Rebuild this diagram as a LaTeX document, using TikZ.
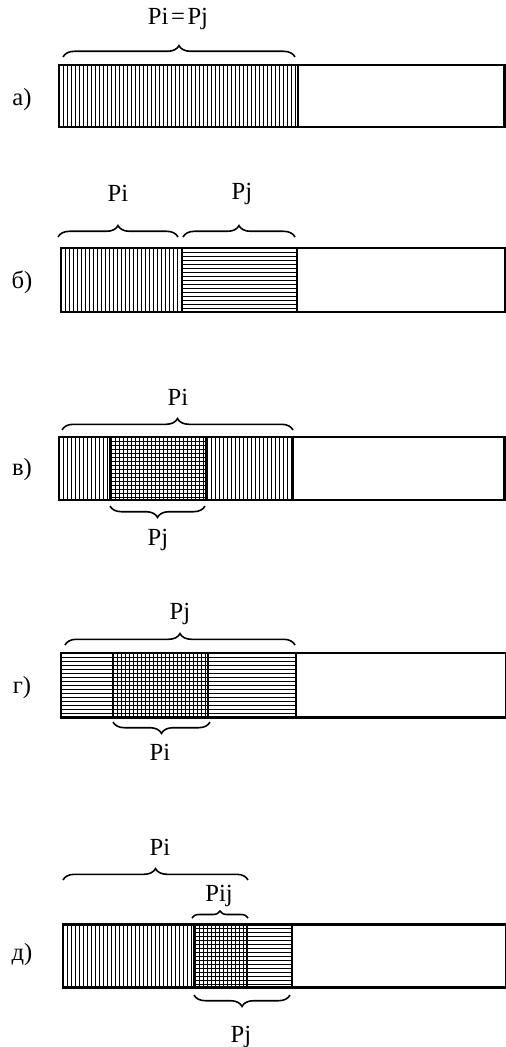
\documentclass[tikz,border=0pt]{standalone}
\usepackage{fontspec}
\setmainfont{Liberation Serif}
\usetikzlibrary{decorations.pathreplacing}

\tikzset{
  bar/.style={line width=1.7pt},
  hatch/.style={line width=0.45pt},
  topbrace/.style={decorate,decoration={brace,amplitude=6.5pt},line width=0.9pt},
  botbrace/.style={decorate,decoration={brace,mirror,amplitude=6.5pt},line width=0.9pt},
  lbl/.style={font=\fontsize{14}{16}\selectfont,inner sep=0pt}
}

\begin{document}
\begin{tikzpicture}[x=0.02cm,y=-0.02cm]
    \useasboundingbox (0,0) rectangle (506,1047);
    %% a)
    \coordinate (a0) at (59,65);
    \coordinate (a1) at (298,127);
    \coordinate (a2) at (504,127);
    \foreach \x in {63,67,...,295} \draw[hatch] (\x,65) -- (\x,127);
    \draw[bar] (a0) rectangle (a2);
    \draw[bar] (a1) -- (a1 |- a0);
    \coordinate (aL) at (63,57);
    \coordinate (aR) at (295,57);
    \draw[topbrace] (aL) -- (aR);
    \node[lbl] (pij) at (178,19) {Pi\hspace{1.5pt}=\hspace{1.5pt}Pj};
    \node[lbl] (na) at (22,100) {а)};
    %% b)
    \coordinate (b0) at (61,248);
    \coordinate (b1) at (182,312);
    \coordinate (b2) at (297,312);
    \coordinate (b3) at (505,312);
    \foreach \x in {65,69,...,180} \draw[hatch] (\x,248) -- (\x,312);
    \foreach \y in {252,256,...,309} \draw[hatch] (182,\y) -- (297,\y);
    \draw[bar] (b0) rectangle (b3);
    \draw[bar] (b1) -- (b1 |- b0);
    \draw[bar] (b2) -- (b2 |- b0);
    \coordinate (bL) at (58,237);
    \coordinate (bM) at (178,237);
    \coordinate (bN) at (183,237);
    \coordinate (bR) at (295,237);
    \draw[topbrace] (bL) -- (bM);
    \draw[topbrace] (bN) -- (bR);
    \node[lbl] (bpi) at (118,193) {Pi};
    \node[lbl] (bpj) at (242,194) {Pj};
    \node[lbl] (nb) at (22,282) {б)};
    %% c)
    \coordinate (c0) at (59,437);
    \coordinate (c1) at (110,500);
    \coordinate (c2) at (206,500);
    \coordinate (c3) at (293,500);
    \coordinate (c4) at (504,500);
    \foreach \x in {63,67,...,291} \draw[hatch] (\x,437) -- (\x,500);
    \foreach \y in {441,445,...,497} \draw[hatch] (110,\y) -- (206,\y);
    \draw[bar] (c0) rectangle (c4);
    \foreach \s in {c1,c2,c3}
      \draw[bar] (\s) -- (\s |- c0);
    \coordinate (cL) at (62,430);
    \coordinate (cR) at (293,430);
    \draw[topbrace] (cL) -- (cR);
    \coordinate (cl) at (110,506);
    \coordinate (cr) at (205,506);
    \draw[botbrace] (cl) -- (cr);
    \node[lbl] (cpi) at (178,397) {Pi};
    \node[lbl] (cpj) at (158,540) {Pj};
    \node[lbl] (nc) at (22,470) {в)};
    %% d)
    \coordinate (d0) at (61,653);
    \coordinate (d1) at (113,717);
    \coordinate (d2) at (208,717);
    \coordinate (d3) at (296,717);
    \coordinate (d4) at (506,717);
    \foreach \y in {657,661,...,714} \draw[hatch] (61,\y) -- (296,\y);
    \foreach \x in {117,121,...,206} \draw[hatch] (\x,653) -- (\x,717);
    \draw[bar] (d0) rectangle (d4);
    \foreach \s in {d1,d2,d3}
      \draw[bar] (\s) -- (\s |- d0);
    \coordinate (dL) at (65,645);
    \coordinate (dR) at (295,645);
    \draw[topbrace] (dL) -- (dR);
    \coordinate (dl) at (113,722);
    \coordinate (dr) at (210,722);
    \draw[botbrace] (dl) -- (dr);
    \node[lbl] (dpj) at (180,614) {Pj};
    \node[lbl] (dpi) at (160,752) {Pi};
    \node[lbl] (nd) at (22,688) {г)};
    %% e)
    \coordinate (e0) at (63,924);
    \coordinate (e1) at (194,987);
    \coordinate (e2) at (247,987);
    \coordinate (e3) at (292,987);
    \coordinate (e4) at (506,987);
    \foreach \x in {67,71,...,245} \draw[hatch] (\x,924) -- (\x,987);
    \foreach \y in {928,932,...,984} \draw[hatch] (194,\y) -- (292,\y);
    \draw[bar] (e0) rectangle (e4);
    \foreach \s in {e1,e2,e3}
      \draw[bar] (\s) -- (\s |- e0);
    \coordinate (eL) at (63,880);
    \coordinate (eR) at (248,880);
    \draw[topbrace] (eL) -- (eR);
    \coordinate (eiL) at (192,918);
    \coordinate (eiR) at (248,918);
    \draw[topbrace,decoration={amplitude=4pt}] (eiL) -- (eiR);
    \coordinate (el) at (194,995);
    \coordinate (er) at (290,995);
    \draw[botbrace] (el) -- (er);
    \node[lbl] (epi) at (160,847) {Pi};
    \node[lbl] (epij) at (219,896) {Pij};
    \node[lbl] (epj) at (241,1037) {Pj};
    \node[lbl] (ne) at (22,955) {д)};
  \end{tikzpicture}
\end{document}
